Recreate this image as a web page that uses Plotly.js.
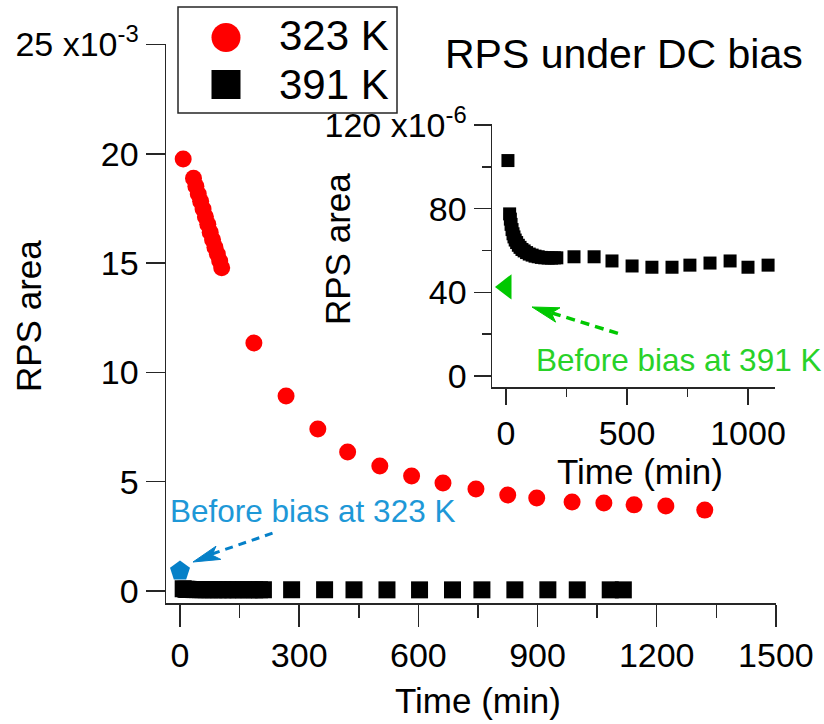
<!DOCTYPE html>
<html>
<head>
<meta charset="utf-8">
<script src="https://cdn.plot.ly/plotly-3.0.1.min.js"></script>
<style>html,body{margin:0;padding:0;background:#fff;}#chart{width:824px;height:724px;}</style>
</head>
<body>
<div id="chart"></div>
<script>
// ---------- DATA ----------
// 323 K series (time in min, RPS area)
var t323 = [8, 34, 40, 46, 52, 58, 64, 70, 76, 82, 88, 94, 100, 105,
            186, 267, 347, 422, 503, 583, 662, 745, 825, 898, 987, 1067, 1143, 1223, 1321];
var v323 = [19.76e-3, 18.88e-3, 18.52e-3, 18.16e-3, 17.83e-3, 17.47e-3, 17.12e-3, 16.78e-3, 16.41e-3, 16.07e-3, 15.72e-3, 15.42e-3, 15.1e-3, 14.79e-3,
            11.34e-3, 8.92e-3, 7.41e-3, 6.36e-3, 5.72e-3, 5.26e-3, 4.94e-3, 4.67e-3, 4.39e-3, 4.25e-3, 4.07e-3, 4.03e-3, 3.94e-3, 3.89e-3, 3.7e-3];
// 391 K series (time in min, RPS area)
var t391 = [8, 15, 18, 21, 25, 29, 33, 38, 44, 51, 58, 66, 75, 85, 96, 108, 120, 133, 146, 160, 174, 188, 200, 210,
            281, 364, 438, 521, 603, 686, 760, 843, 926, 1000, 1083, 1116];
var v391 = [103e-6, 77.5e-6, 75e-6, 72.5e-6, 70e-6, 68e-6, 66.5e-6, 65e-6, 63.8e-6, 62.5e-6, 61.5e-6, 60.5e-6, 59.8e-6, 59e-6, 58.3e-6, 57.8e-6, 57.3e-6, 57e-6, 56.7e-6, 56.5e-6, 56.4e-6, 56.4e-6, 56.5e-6, 56.5e-6,
            57e-6, 57e-6, 55e-6, 52.6e-6, 52e-6, 52e-6, 53e-6, 54e-6, 55e-6, 52e-6, 53e-6, 52e-6];
// reference points before bias
var tBefore323 = [0], vBefore323 = [0.91e-3];
var tBefore391 = [0], vBefore391 = [42.6e-6];

// tick labels
var mainXTicks = [0, 300, 600, 900, 1200, 1500];
var mainXMinor = [150, 450, 750, 1050, 1350];
var mainYTicks = [0, 5e-3, 10e-3, 15e-3, 20e-3, 25e-3];
var mainYText = ['0', '5', '10', '15', '20', '25 x10<sup>-3</sup>'];
var insXTicks = [0, 500, 1000];
var insXMinor = [250, 750];
var insYTicks = [0, 40e-6, 80e-6, 120e-6];
var insYText = ['0', '40', '80', '120 x10<sup>-6</sup>'];
var insYMinor = [20e-6, 60e-6, 100e-6];
var legendNames = ['323 K', '391 K'];

// ---------- LAYOUT HELPERS (pixel -> paper) ----------
var L = 166, R = 776, T = 44, B = 603;
var W = R - L, H = B - T;
function px(x) { return (x - L) / W; }
function py(y) { return (B - y) / H; }

var FONT = 'Liberation Sans, Arial, Helvetica, sans-serif';
var AX = '#262626';
var BLUE_MK = 'rgb(5,128,200)', BLUE_TX = 'rgb(30,152,215)';
var GREEN_MK = 'rgb(0,200,0)', GREEN_TX = 'rgb(40,210,40)';

var traces = [
  {x: t391, y: v391, xaxis: 'x', yaxis: 'y', type: 'scatter', mode: 'markers', name: legendNames[1],
   marker: {symbol: 'square', size: 17, color: '#000'}, cliponaxis: false},
  {x: t323, y: v323, xaxis: 'x', yaxis: 'y', type: 'scatter', mode: 'markers', name: legendNames[0],
   marker: {symbol: 'circle', size: 17, color: '#ff0000'}, cliponaxis: false},
  {x: tBefore323, y: vBefore323, xaxis: 'x', yaxis: 'y', type: 'scatter', mode: 'markers',
   marker: {symbol: 'pentagon', size: 21, color: BLUE_MK}, cliponaxis: false},
  {x: t391, y: v391, xaxis: 'x2', yaxis: 'y2', type: 'scatter', mode: 'markers',
   marker: {symbol: 'square', size: 13, color: '#000'}, cliponaxis: false},
  {x: tBefore391, y: vBefore391, xaxis: 'x2', yaxis: 'y2', type: 'scatter', mode: 'markers',
   marker: {symbol: 'triangle-left', size: 22, color: GREEN_MK}, cliponaxis: false}
];

function axisBase() {
  return {showline: true, linecolor: AX, linewidth: 1.5, ticks: 'outside', tickwidth: 1.5, tickcolor: AX,
          showgrid: false, zeroline: false, tickfont: {family: FONT, size: 34, color: '#000'}, fixedrange: true};
}

var xa = Object.assign(axisBase(), {domain: [0, 1], anchor: 'y', range: [-35.23, 1500.3],
  tickmode: 'array', tickvals: mainXTicks, ticktext: mainXTicks.map(String), ticklen: 22,
  minor: {tickmode: 'array', tickvals: mainXMinor, ticklen: 13, ticks: 'outside', tickwidth: 1.5, tickcolor: AX, showgrid: false}});
var ya = Object.assign(axisBase(), {domain: [0, 1], anchor: 'x', range: [-0.549e-3, 25.023e-3],
  tickmode: 'array', tickvals: mainYTicks, ticktext: mainYText, ticklen: 19});
var xa2 = Object.assign(axisBase(), {domain: [px(492), px(775)], anchor: 'y2', range: [-57.85, 1111.6],
  tickmode: 'array', tickvals: insXTicks, ticktext: insXTicks.map(String), ticklen: 16,
  minor: {tickmode: 'array', tickvals: insXMinor, ticklen: 8, ticks: 'outside', tickwidth: 1.5, tickcolor: AX, showgrid: false}});
var ya2 = Object.assign(axisBase(), {domain: [py(387), py(124)], anchor: 'x2', range: [-5.26e-6, 120.48e-6],
  tickmode: 'array', tickvals: insYTicks, ticktext: insYText, ticklen: 17,
  minor: {tickmode: 'array', tickvals: insYMinor, ticklen: 9, ticks: 'outside', tickwidth: 1.5, tickcolor: AX, showgrid: false}});

function ann(text, x, y, size, opts) {
  return Object.assign({text: text, xref: 'paper', yref: 'paper', x: px(x), y: py(y), showarrow: false,
    xanchor: 'center', yanchor: 'middle', font: {family: FONT, size: size, color: '#000'}}, opts || {});
}

var annotations = [
  ann('Time (min)', 478, 700, 35),
  ann('RPS area', 28, 316, 35, {textangle: -90}),
  ann('RPS under DC bias', 624, 54, 41),
  ann('Time (min)', 640, 471, 35),
  ann('RPS area', 338, 249, 35, {textangle: -90}),
  ann(legendNames[0], 277, 36, 42, {xanchor: 'left'}),
  ann(legendNames[1], 277, 84, 42, {xanchor: 'left'}),
  ann('Before bias at 323 K', 168, 511, 31.5, {xanchor: 'left', font: {family: FONT, size: 31.5, color: BLUE_TX}}),
  ann('Before bias at 391 K', 534, 360, 31.5, {xanchor: 'left', font: {family: FONT, size: 31.5, color: GREEN_TX}})
];

function seg(x0, y0, x1, y1, color, width, dash) {
  return {type: 'line', xref: 'paper', yref: 'paper', x0: px(x0), y0: py(y0), x1: px(x1), y1: py(y1),
          line: {color: color, width: width, dash: dash || 'solid'}};
}
function headPath(tipx, tipy, tailx, taily, len, half, color) {
  var dx = tailx - tipx, dy = taily - tipy, d = Math.sqrt(dx * dx + dy * dy);
  var ux = dx / d, uy = dy / d, nx = -uy, ny = ux;
  var bx = tipx + ux * len, by = tipy + uy * len;
  var nxp = tipx + ux * len * 0.75, nyp = tipy + uy * len * 0.75;
  var pts = [[tipx, tipy], [bx + nx * half, by + ny * half], [nxp, nyp], [bx - nx * half, by - ny * half]];
  var p = pts.map(function (q, i) { return (i ? 'L' : 'M') + px(q[0]).toFixed(5) + ',' + py(q[1]).toFixed(5); }).join(' ') + ' Z';
  return {type: 'path', xref: 'paper', yref: 'paper', path: p, fillcolor: color, line: {color: color, width: 1}};
}

var shapes = [
  // legend box
  {type: 'rect', xref: 'paper', yref: 'paper', x0: px(178), x1: px(397), y0: py(7), y1: py(113),
   line: {color: AX, width: 1.5}, fillcolor: 'rgba(0,0,0,0)'},
  {type: 'circle', xref: 'paper', yref: 'paper', x0: px(211.5), x1: px(240.5), y0: py(23), y1: py(52),
   line: {color: '#ff0000', width: 0}, fillcolor: '#ff0000'},
  {type: 'rect', xref: 'paper', yref: 'paper', x0: px(211.5), x1: px(240.5), y0: py(70), y1: py(99),
   line: {color: '#000', width: 0}, fillcolor: '#000'},
  // blue arrow
  seg(212, 554, 273, 533, BLUE_MK, 3, '8px,6px'),
  headPath(193, 562, 273, 533, 27, 7, BLUE_MK),
  // green arrow
  seg(552, 313, 623, 335, GREEN_MK, 3.5, '9px,6px'),
  headPath(532, 307, 623, 335, 27, 7.5, GREEN_MK)
];

var layout = {
  width: 824, height: 724,
  margin: {l: L, r: 824 - R, t: T, b: 724 - B, pad: 0},
  paper_bgcolor: '#fff', plot_bgcolor: 'rgba(0,0,0,0)',
  showlegend: false,
  font: {family: FONT, color: '#000'},
  xaxis: xa, yaxis: ya, xaxis2: xa2, yaxis2: ya2,
  annotations: annotations, shapes: shapes
};

Plotly.newPlot('chart', traces, layout, {staticPlot: true, displayModeBar: false});
</script>
</body>
</html>
